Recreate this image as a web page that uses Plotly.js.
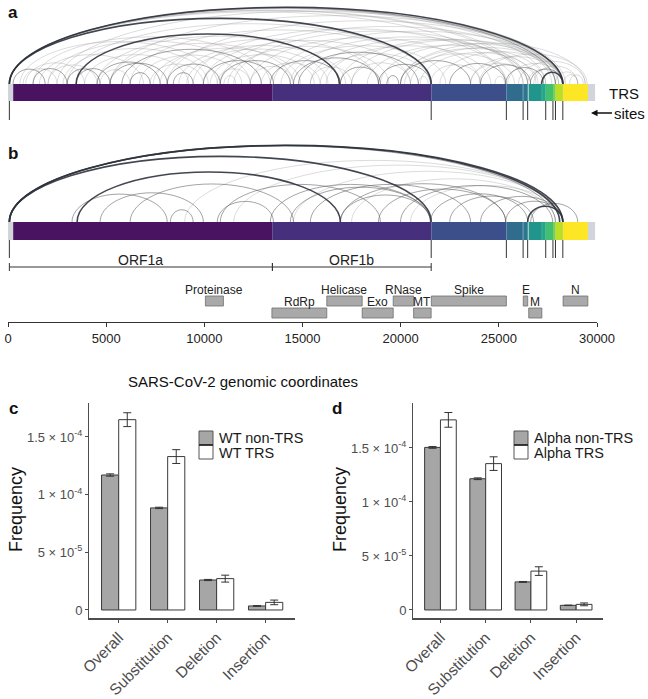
<!DOCTYPE html>
<html>
<head>
<meta charset="utf-8">
<script src="https://cdn.plot.ly/plotly-3.0.1.min.js"></script>
<style>
  html, body { margin: 0; padding: 0; background: #fff; }
  #chart { width: 648px; height: 699px; }
</style>
</head>
<body>
<div id="chart"></div>
<script>
// ===== SARS-CoV-2 junction arcs + TRS mutation frequency =====

// --- Genome ---
const GENOME_LEN = 29903;
const geneNames = ["ORF1a", "ORF1b", "S", "ORF3a", "E", "M", "ORF6", "ORF7a", "ORF7b", "ORF8", "N"];
const geneStart = [266, 13468, 21563, 25393, 26245, 26523, 27202, 27394, 27756, 27894, 28274];
const geneEnd = [13468, 21555, 25384, 26220, 26472, 27191, 27387, 27759, 27887, 28259, 29533];
const geneColors = ["#4a1362", "#46307d", "#3c4f8a", "#2f6c8e", "#2a788e", "#1f958b",
  "#22a884", "#43bf71", "#7ad151", "#bbdf27", "#fde725"];

// TRS sites (leader + body)
const trsSites = [70, 21555, 25384, 26237, 26469, 27388, 27756, 27884, 28259];

// ORF1 brackets
const orf1Names = ["ORF1a", "ORF1b"];
const orf1Start = [70, 13468];
const orf1End = [13468, 21555];

// protein domains (row 1 = upper, 0 = lower)
const domainNames = ["Proteinase", "RdRp", "Helicase", "Exo", "RNase", "MT", "Spike", "E", "M", "N"];
const domainStart = [10055, 13442, 16237, 18040, 19621, 20659, 21563, 26245, 26523, 28274];
const domainEnd = [10972, 16236, 18039, 19620, 20658, 21552, 25384, 26472, 27191, 29533];
const domainRow = [1, 0, 1, 0, 1, 0, 1, 1, 0, 1];

const genomeTicks = [0, 5000, 10000, 15000, 20000, 25000, 30000];

// --- Junction arcs: [donor, acceptor, strength level 1..3] ---
const arcsA = [
  [70, 28259, 3], [70, 21555, 3], [70, 27884, 2], [70, 27388, 1], [70, 26469, 1], [70, 26237, 1],
  [70, 25384, 1], [70, 28050, 1], [70, 27700, 1], [70, 28400, 1],
  [3470, 16880, 3], [27180, 28259, 3], [26600, 28259, 2],
  [255, 1890, 2], [765, 2500, 1], [1275, 3010, 2], [2040, 4540, 1], [3010, 4690, 2], [3470, 5200, 2],
  [4540, 7750, 2], [4690, 6220, 1], [5200, 8110, 2], [6220, 7240, 2], [7240, 9950, 1], [8110, 10810, 2],
  [8420, 9430, 2], [9950, 13520, 2], [10660, 12340, 1], [10810, 14380, 2], [12340, 14540, 1],
  [13360, 16930, 2], [14540, 18870, 2], [15400, 17500, 1], [16930, 18970, 2], [17500, 20500, 1],
  [18870, 21520, 2], [19990, 23560, 2], [21520, 24070, 1], [22500, 25350, 2], [23560, 26470, 1],
  [24070, 26620, 2], [25350, 27290, 2], [25450, 28300, 1], [26470, 28050, 1], [26770, 29020, 1],
  [2500, 28259, 1], [5200, 28259, 1], [8110, 28259, 1], [10810, 27884, 1], [13520, 28259, 1],
  [16930, 27884, 1], [3010, 21555, 1], [6220, 21555, 1], [11500, 26237, 1], [14380, 26469, 1],
  [18970, 28259, 1], [20500, 28259, 1], [22000, 28259, 1], [23560, 28259, 1], [9430, 25350, 1],
  [4540, 16930, 1], [1275, 13360, 1], [7750, 18870, 1], [12340, 24070, 1], [15400, 26470, 1],
  [610, 10660, 1], [2040, 12340, 1], [5200, 14540, 1], [9950, 20500, 1], [17500, 28259, 1],
  [19990, 27388, 1], [11000, 11600, 1], [19300, 19900, 2], [20900, 21400, 1], [24800, 25300, 1],
  [28300, 29020, 1], [28600, 29300, 1], [27884, 29020, 1], [1600, 6900, 1], [6700, 11900, 1],
  [12900, 15900, 1], [15900, 21555, 1], [20200, 25800, 1], [900, 3900, 1], [9100, 16300, 1],
  [2800, 10200, 1], [5800, 12900, 2], [8700, 17200, 1], [11200, 19400, 1], [13900, 22300, 1],
  [16200, 24600, 1], [18300, 26900, 1], [20000, 29400, 1], [24000, 29500, 1], [26000, 29400, 1],
  [7400, 14900, 1], [3900, 9200, 1], [14800, 20900, 2], [21000, 27000, 1], [10300, 15600, 1]
];

const arcsB = [
  [70, 28259, 3], [70, 28100, 3], [70, 27884, 2], [70, 21555, 3],
  [3520, 16930, 3], [3260, 8110, 2], [8270, 9430, 2], [4690, 9950, 2], [6220, 14540, 2],
  [10660, 13520, 2], [10810, 18970, 2], [13360, 21520, 2], [15400, 23560, 2], [16930, 21520, 2],
  [18870, 25350, 2], [21520, 26470, 2], [24070, 28259, 2], [25350, 28259, 2], [26470, 28259, 3],
  [26620, 29020, 2], [16930, 25350, 2], [19990, 27740, 2], [14380, 21520, 2], [22500, 26770, 2],
  [20500, 28259, 1], [11500, 28259, 1], [14540, 28259, 1], [17500, 27884, 1], [9000, 28259, 1]
];

// --- Mutation frequency (panels c, d) ---
const mutTypes = ["Overall", "Substitution", "Deletion", "Insertion"];
const wtNonTrs = [1.17e-4, 0.885e-4, 2.6e-5, 3.5e-6];
const wtNonTrsErr = [1.0e-6, 0.6e-6, 0.5e-6, 0.3e-6];
const wtTrs = [1.65e-4, 1.33e-4, 2.72e-5, 6.6e-6];
const wtTrsErr = [6.0e-6, 6.0e-6, 3.0e-6, 2.0e-6];
const alphaNonTrs = [1.505e-4, 1.215e-4, 2.6e-5, 4.3e-6];
const alphaNonTrsErr = [0.8e-6, 0.8e-6, 0.4e-6, 0.2e-6];
const alphaTrs = [1.76e-4, 1.355e-4, 3.6e-5, 5.2e-6];
const alphaTrsErr = [6.8e-6, 6.3e-6, 4.0e-6, 1.3e-6];
const freqTickVals = [0, 5e-5, 1e-4, 1.5e-4];
const freqTickText = ["0", "5 \u00d7 10<sup>-5</sup>", "1 \u00d7 10<sup>-4</sup>", "1.5 \u00d7 10<sup>-4</sup>"];

// ===== Layout helpers =====
const W = 648, H = 699;
const FONT = 'Arial, "Liberation Sans", Helvetica, sans-serif';
const px = (v) => v / W;
const py = (v) => 1 - v / H;
const PX_PER_NT = (597 - 8) / 30000;

const arcColor = { 1: "rgba(140,140,140,0.3)", 2: "rgba(90,90,90,0.55)", 3: "rgba(45,50,60,0.9)" };
const arcWidth = { 1: 1, 2: 1, 3: 1.6 };

function arcPath(x0, x1) {
  const span = (x1 - x0) * PX_PER_NT;
  const h = 2.03 * Math.pow(span, 0.575);
  const m = (x0 + x1) / 2, r = (x1 - x0) / 2, k = 0.5523;
  return `M${x0},0 C${x0},${k * h} ${m - k * r},${h} ${m},${h} C${m + k * r},${h} ${x1},${k * h} ${x1},0`;
}

const shapes = [];

function addArcs(list, yref) {
  [...list].sort((p, q) => p[2] - q[2]).forEach(([a, b, lv]) => {
    shapes.push({
      type: "path", xref: "x", yref, path: arcPath(a, b),
      line: { color: arcColor[lv], width: arcWidth[lv] }
    });
  });
}

function addGenomeBar(yref, depth) {
  shapes.push({
    type: "rect", xref: "x", yref, x0: 0, x1: GENOME_LEN, y0: -depth, y1: 0,
    fillcolor: "#d1d5db", line: { width: 0 }
  });
  geneNames.forEach((_, i) => {
    shapes.push({
      type: "rect", xref: "x", yref, x0: geneStart[i], x1: geneEnd[i], y0: -depth, y1: 0,
      fillcolor: geneColors[i], line: { width: 0 }
    });
  });
}

addArcs(arcsA, "y");
addGenomeBar("y", 17);
addArcs(arcsB, "y2");
addGenomeBar("y2", 18);

// protein domain boxes
domainNames.forEach((_, i) => {
  const base = domainRow[i] ? 16 : 4;
  shapes.push({
    type: "rect", xref: "x", yref: "y3", x0: domainStart[i], x1: domainEnd[i], y0: base, y1: base + 10,
    fillcolor: "#a9a9a9", line: { color: "#6f6f6f", width: 0.8 }
  });
});

// ===== Traces =====
const trsX = trsSites.flatMap((s) => [s, s, null]);
const bracketX = orf1Names.flatMap((_, i) => [
  orf1Start[i], orf1End[i], null, orf1Start[i], orf1Start[i], null, orf1End[i], orf1End[i], null]);
const bracketY = orf1Names.flatMap(() => [55, 55, null, 51, 59, null, 51, 59, null]);

const traces = [
  { type: "scatter", mode: "lines", x: trsX, y: trsSites.flatMap(() => [-17, -36, null]),
    xaxis: "x", yaxis: "y", line: { color: "#333", width: 1 }, hoverinfo: "skip", showlegend: false },
  { type: "scatter", mode: "lines", x: trsX, y: trsSites.flatMap(() => [-18, -36, null]),
    xaxis: "x", yaxis: "y2", line: { color: "#333", width: 1 }, hoverinfo: "skip", showlegend: false },
  { type: "scatter", mode: "lines", x: bracketX, y: bracketY,
    xaxis: "x", yaxis: "y3", line: { color: "#333", width: 1 }, hoverinfo: "skip", showlegend: false }
];

function barPair(xa, ya, nonVals, nonErr, trsVals, trsErr) {
  const common = { type: "bar", x: mutTypes, xaxis: xa, yaxis: ya, showlegend: false, hoverinfo: "skip" };
  return [
    { ...common, y: nonVals, marker: { color: "#a6a6a6", line: { color: "#3a3a3a", width: 1 } },
      error_y: { type: "data", array: nonErr, color: "#333", thickness: 1, width: 4 } },
    { ...common, y: trsVals, marker: { color: "#ffffff", line: { color: "#3a3a3a", width: 1 } },
      error_y: { type: "data", array: trsErr, color: "#333", thickness: 1, width: 4 } }
  ];
}
traces.push(...barPair("x2", "y4", wtNonTrs, wtNonTrsErr, wtTrs, wtTrsErr));
traces.push(...barPair("x3", "y5", alphaNonTrs, alphaNonTrsErr, alphaTrs, alphaTrsErr));

// ===== Annotations =====
const paperText = (text, x, y, size, extra) => ({
  text, xref: "paper", yref: "paper", x: px(x), y: py(y), xanchor: "center", yanchor: "middle",
  showarrow: false, font: { size, color: "#111" }, ...extra
});

const annotations = [
  paperText("<b>a</b>", 13, 12, 17),
  paperText("<b>b</b>", 13, 154, 17),
  paperText("<b>c</b>", 13, 408, 17),
  paperText("<b>d</b>", 337, 408, 17),
  paperText("TRS", 624, 93, 15),
  paperText("sites", 591, 113, 15, { showarrow: true, ax: 38, ay: 0, arrowhead: 2, arrowsize: 1,
    arrowwidth: 1.3, arrowcolor: "#111", standoff: 0 }),
  paperText("SARS-CoV-2 genomic coordinates", 243, 381, 15),
  paperText("Frequency", 16, 510, 18, { textangle: -90 }),
  paperText("Frequency", 340, 510, 18, { textangle: -90 })
];

// domain and ORF1 labels
domainNames.forEach((name, i) => {
  annotations.push({ text: name, xref: "x", yref: "y3", x: (domainStart[i] + domainEnd[i]) / 2,
    y: domainRow[i] ? 24 : 12, xanchor: "center", yanchor: "bottom", showarrow: false,
    font: { size: 12, color: "#222" }, borderpad: 0 });
});
orf1Names.forEach((name, i) => {
  annotations.push({ text: name, xref: "x", yref: "y3", x: (orf1Start[i] + orf1End[i]) / 2,
    y: 53.5, xanchor: "center", yanchor: "bottom", showarrow: false,
    font: { size: 14, color: "#222" }, borderpad: 0 });
});

// manual legends for c, d
function addLegend(x0, labels) {
  shapes.push({ type: "rect", xref: "paper", yref: "paper", x0: px(x0), x1: px(x0 + 14), y0: py(445), y1: py(431),
    fillcolor: "#a6a6a6", line: { color: "#555", width: 1 } });
  shapes.push({ type: "rect", xref: "paper", yref: "paper", x0: px(x0), x1: px(x0 + 14), y0: py(459), y1: py(445),
    fillcolor: "#ffffff", line: { color: "#555", width: 1 } });
  shapes.push({ type: "line", xref: "paper", yref: "paper", x0: px(x0), x1: px(x0 + 14), y0: py(445), y1: py(445),
    line: { color: "#222", width: 1.6 } });
  labels.forEach((t, i) => {
    annotations.push({ text: t, xref: "paper", yref: "paper", x: px(x0 + 19), y: py(438 + i * 14.5),
      xanchor: "left", yanchor: "middle", showarrow: false, borderpad: 0,
      font: { size: 14.5, color: "#1a1a1a" } });
  });
}
addLegend(199, ["WT non-TRS", "WT TRS"]);
addLegend(514, ["Alpha non-TRS", "Alpha TRS"]);

// ===== Axes =====
const hidden = { visible: false, fixedrange: true, showgrid: false, zeroline: false };
const catAxis = (domain, anchor) => ({
  domain, anchor, type: "category", categoryarray: mutTypes, range: [-0.6, 3.6],
  showline: true, linecolor: "#4d4d4d", linewidth: 1.3, ticks: "outside", ticklen: 3,
  tickcolor: "#4d4d4d", tickangle: -45, tickfont: { size: 15.5, color: "#4d4d4d" },
  showgrid: false, zeroline: false, fixedrange: true
});
const freqAxis = (domain, anchor, range) => ({
  domain, anchor, range, tickvals: freqTickVals, ticktext: freqTickText,
  showline: true, linecolor: "#4d4d4d", linewidth: 1.3, ticks: "outside", ticklen: 3,
  tickcolor: "#4d4d4d", tickfont: { size: 13, color: "#4d4d4d" },
  showgrid: false, zeroline: false, fixedrange: true
});

const layout = {
  width: W, height: H,
  margin: { l: 0, r: 0, t: 0, b: 0 },
  paper_bgcolor: "#fff", plot_bgcolor: "rgba(0,0,0,0)",
  font: { family: FONT, color: "#222" },
  showlegend: false,
  barmode: "group", bargap: 0.3, bargroupgap: 0,
  xaxis: {
    domain: [px(8), px(597)], anchor: "y3", range: [0, 30000],
    tickvals: genomeTicks, ticktext: genomeTicks.map(String),
    ticks: "outside", ticklen: 4, tickcolor: "#333",
    showline: true, linecolor: "#333", linewidth: 1,
    tickfont: { size: 13, color: "#222" }, showgrid: false, zeroline: false, fixedrange: true
  },
  yaxis: { ...hidden, domain: [py(125), py(0)], range: [-41, 84] },
  yaxis2: { ...hidden, domain: [py(262), py(130)], range: [-40, 92] },
  yaxis3: { ...hidden, domain: [py(322), py(255)], range: [0, 67] },
  xaxis2: catAxis([px(89.3), px(295)], "y4"),
  yaxis4: freqAxis([py(618.3), py(402.7)], "x2", [-7.2e-6, 1.797e-4]),
  xaxis3: catAxis([px(413.3), px(603.3)], "y5"),
  yaxis5: freqAxis([py(618.3), py(402.7)], "x3", [-7.7e-6, 1.919e-4]),
  shapes, annotations
};

Plotly.newPlot("chart", traces, layout, { staticPlot: true, displayModeBar: false });
</script>
</body>
</html>
